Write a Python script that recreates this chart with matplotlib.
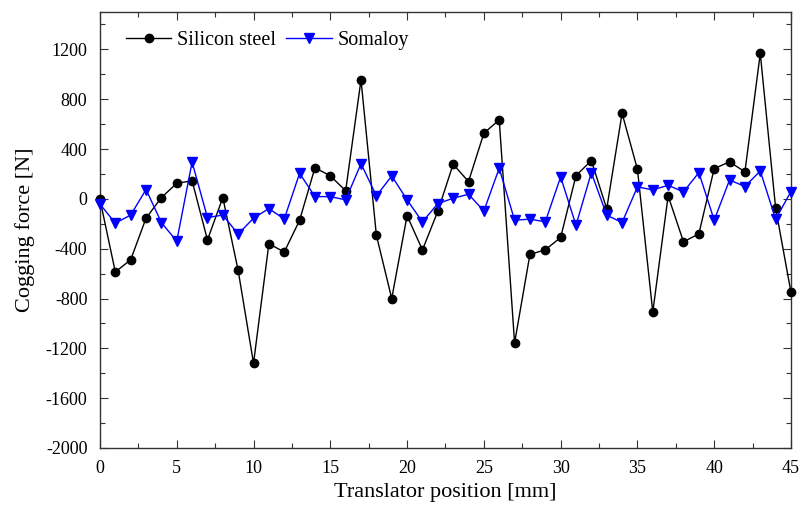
import matplotlib
matplotlib.use("Agg")
import matplotlib.pyplot as plt
from matplotlib.ticker import MultipleLocator

# Translator position [mm]
position = list(range(46))

# Cogging force [N]
silicon_steel = [-5, -587, -489, -155, 10, 125, 145, -330, 10, -575,
                 -1320, -360, -427, -172, 250, 185, 65, 955, -292, -800,
                 -135, -410, -100, 278, 139, 527, 634, -1157, -446, -409,
                 -310, 187, 307, -80, 687, 238, -909, 24, -345, -281,
                 243, 297, 217, 1168, -75, -751]
somaloy = [-42, -195, -130, 75, -190, -340, 295, -150, -130, -283,
           -155, -78, -162, 205, 18, 18, -8, 283, 24, 184,
           -8, -185, -38, 5, 37, -97, 246, -171, -163, -184,
           176, -212, 211, -131, -190, 96, 72, 109, 56, 211,
           -171, 152, 99, 224, -163, 59]

plt.rcParams['font.family'] = ['Liberation Serif', 'DejaVu Serif']
plt.rcParams['axes.unicode_minus'] = False

fig = plt.figure(figsize=(8.01, 5.07), dpi=100)
ax = fig.add_axes([0.1248, 0.1164, 0.8627, 0.8599])

ax.plot(position, silicon_steel, color='black', linewidth=1.0,
        marker='o', markersize=6, label='Silicon steel', clip_on=False, zorder=3)
ax.plot(position, somaloy, color='#0000FF', linewidth=1.0,
        marker='v', markersize=7, label='Somaloy', clip_on=False, zorder=4)

ax.set_xlim(0, 45)
ax.set_ylim(-2000, 1500)
ax.xaxis.set_major_locator(MultipleLocator(5))
ax.xaxis.set_minor_locator(MultipleLocator(2.5))
ax.set_yticks(range(-2000, 1201, 400))
ax.yaxis.set_minor_locator(MultipleLocator(200))

ax.tick_params(which='both', direction='in', top=True, right=True,
               labelsize=13, colors='#333333', labelcolor='black')
ax.tick_params(which='major', length=6, width=0.8)
ax.tick_params(which='minor', length=3.5, width=0.8)
ax.tick_params(axis='x', pad=9)
ax.tick_params(axis='y', pad=9)
for spine in ax.spines.values():
    spine.set_color('#333333')
    spine.set_linewidth(1.0)

ax.set_xlabel('Translator position [mm]', fontsize=16, labelpad=4)
ax.set_ylabel('Cogging force [N]', fontsize=16, labelpad=8)

ax.legend(loc='upper left', ncol=2, frameon=False, fontsize=14.5,
          handlelength=2.25, columnspacing=0.5, handletextpad=0.3,
          bbox_to_anchor=(0.02, 0.985), borderaxespad=0.2)

fig.savefig('out.png', dpi=100)
plt.close(fig)
